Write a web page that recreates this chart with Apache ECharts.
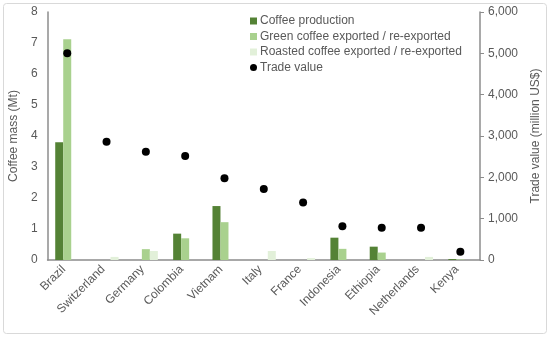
<!DOCTYPE html>
<html><head><meta charset="utf-8">
<script src="https://cdn.jsdelivr.net/npm/echarts@6/dist/echarts.min.js"></script>
<style>html,body{margin:0;padding:0;background:#fff}#c{width:550px;height:337px}</style>
</head><body><div id="c"></div>
<script>
const categories = ['Brazil','Switzerland','Germany','Colombia','Vietnam','Italy','France','Indonesia','Ethiopia','Netherlands','Kenya'];
const production = [3.8, null, null, 0.85, 1.74, null, null, 0.72, 0.43, null, 0.03];
const greenExport = [7.12, null, 0.35, 0.70, 1.22, null, null, 0.36, 0.24, null, 0.02];
const roastedExport = [null, 0.10, 0.29, null, null, 0.29, 0.06, null, null, 0.10, null];
const tradeValue = [5000, 2860, 2620, 2515, 1975, 1715, 1390, 815, 780, 780, 200];

const chart = echarts.init(document.getElementById('c'), null, {renderer:'canvas'});
const txt = '#595959';
const font = 'Liberation Sans, Arial, sans-serif';
chart.setOption({
  animation:false,
  textStyle:{fontFamily:font},
  graphic:[{type:'rect',shape:{x:3.5,y:3.5,width:543,height:330,r:3},style:{fill:'none',stroke:'#d9d9d9',lineWidth:1},z:-1}],
  grid:{left:41,right:69,top:12,bottom:77},
  legend:{
    orient:'vertical', left:245, top:10, itemWidth:7, itemHeight:7, itemGap:3.5,
    textStyle:{color:txt,fontSize:12,fontFamily:font,lineHeight:12,padding:[0,0,0,-2]},
    data:[
      {name:'Coffee production',icon:'rect'},
      {name:'Green coffee exported / re-exported',icon:'rect'},
      {name:'Roasted coffee exported / re-exported',icon:'rect'},
      {name:'Trade value',icon:'circle'}
    ]
  },
  xAxis:{
    type:'category', data:categories,
    axisLine:{lineStyle:{color:'#8c8c8c',width:1.5}},
    axisTick:{show:false},
    axisLabel:{rotate:45,color:txt,fontSize:12,margin:4,padding:[0,5,0,0],interval:0,fontFamily:font}
  },
  yAxis:[
    {type:'value',min:0,max:8,interval:1,
     name:'Coffee mass (Mt)',nameLocation:'middle',nameGap:24,nameRotate:90,
     nameTextStyle:{color:txt,fontSize:12,fontFamily:font},
     axisLine:{show:true,lineStyle:{color:'#8c8c8c',width:1.5}},
     axisTick:{show:false},splitLine:{show:false},
     axisLabel:{color:txt,fontSize:12,margin:10,fontFamily:font}},
    {type:'value',min:0,max:6000,interval:1000,position:'right',
     name:'Trade value (million US$)',nameLocation:'middle',nameGap:50,nameRotate:90,
     nameTextStyle:{color:txt,fontSize:12,fontFamily:font},
     axisLine:{show:true,lineStyle:{color:'#8c8c8c',width:1.5}},
     axisTick:{show:true,length:4,lineStyle:{color:'#8c8c8c'}},splitLine:{show:false},
     axisLabel:{color:txt,fontSize:12,margin:8,fontFamily:font,
       formatter:v=>v.toLocaleString('en-US')}}
  ],
  series:[
    {name:'Coffee production',type:'bar',data:production,barWidth:8,barGap:'0%',itemStyle:{color:'#548235'}},
    {name:'Green coffee exported / re-exported',type:'bar',data:greenExport,barWidth:8,barGap:'0%',itemStyle:{color:'#a9d18e'}},
    {name:'Roasted coffee exported / re-exported',type:'bar',data:roastedExport,barWidth:8,barGap:'0%',itemStyle:{color:'#e2f0d9'}},
    {name:'Trade value',type:'scatter',yAxisIndex:1,data:tradeValue,symbolSize:8,itemStyle:{color:'#000',opacity:1}}
  ]
});
</script></body></html>
